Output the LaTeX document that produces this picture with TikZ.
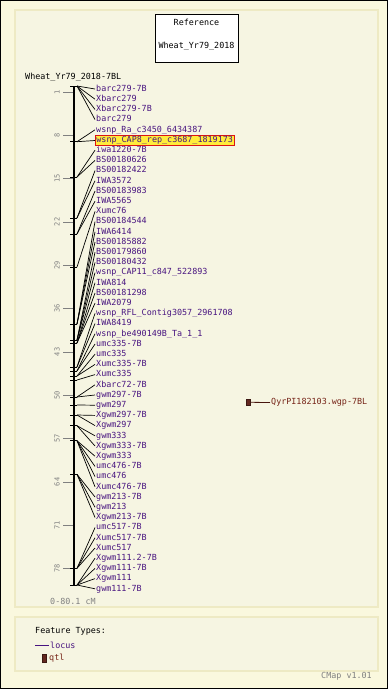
\documentclass[tikz,border=0pt]{standalone}
\usepackage{fontspec}
\setmonofont{DejaVu Sans Mono}
\definecolor{pagebg}{RGB}{250,248,222}
\definecolor{panelbg}{RGB}{246,245,226}
\definecolor{panelline}{RGB}{238,234,196}
\definecolor{locuscol}{RGB}{72,20,128}
\definecolor{qtlcol}{RGB}{118,36,24}
\definecolor{qtlfill}{RGB}{100,40,32}
\definecolor{scalegray}{RGB}{128,128,128}
\definecolor{hiyellow}{RGB}{255,236,60}
\definecolor{hired}{RGB}{220,20,20}
\begin{document}
\begin{tikzpicture}[x=1pt, y=-1pt,
    mono/.style={font=\ttfamily\fontsize{8.4}{10}\selectfont, inner sep=1pt},
    lbl/.style={mono, text=locuscol, anchor=west, text height=6pt, text depth=1.5pt},
    hilite/.style={fill=hiyellow, draw=hired, line width=0.8pt},
    conn/.style={line width=0.7pt},
    mtick/.style={line width=0.8pt},
    scaletick/.style={scalegray, line width=0.8pt},
    scalenum/.style={font=\ttfamily\fontsize{7}{8}\selectfont, text=scalegray, rotate=90, inner sep=0pt},
    panel/.style={draw=panelline, fill=panelbg, line width=1.5pt}]
    \useasboundingbox (0,0) rectangle (388,689);

    % 绘制背景和面板
    \fill[pagebg] (0,0) rectangle (388,689);
    \draw[black, line width=1pt] (0.5,0.5) rectangle (387.5,688.5);
    \draw[panel] (15,10) rectangle (378,607);
    \draw[panel] (15,617) rectangle (378,671);

    % 参考图框
    \node[draw, fill=white, line width=0.8pt, minimum width=83pt, minimum height=48pt] (refbox) at (196.5,38) {};
    \node[mono] (reftitle) at (196.5,22.5) {Reference};
    \node[mono] (refname) at (196.5,46) {Wheat\_Yr79\_2018};

    % 染色体名称和轴
    \node[mono, anchor=west] (chrtitle) at (24,77) {Wheat\_Yr79\_2018-7BL};
    \draw[line width=2pt] (73.5,86) -- (73.5,585);
    \foreach \c in {1,8,...,78}{
        \pgfmathsetmacro\ty{85.8+6.19*\c}
        \draw[scaletick] (63,\ty) -- (72.5,\ty);
        \node[scalenum] (s\c) at (57,\ty) {\c};
    }
    \node[mono, text=scalegray, anchor=west] (span) at (49,601) {0-80.1 cM};

    % 标记位置
    \foreach \my in {86,141.7,177,218,234,267,324,340,343,367,371,376,380,397,405,415,425.7,440.7,474.3,568.3,585}
        \draw[mtick] (70,\my) -- (77,\my);

    % 标记名称和连线
    \foreach \i/\my/\txt in {
        1/86/barc279-7B, 2/86/Xbarc279, 3/86/Xbarc279-7B, 4/86/barc279,
        5/141.7/wsnp\_Ra\_c3450\_6434387,
        7/177/iwa1220-7B, 8/177/BS00180626,
        9/218/BS00182422, 10/218/IWA3572,
        11/234/BS00183983, 12/234/IWA5565,
        13/267/Xumc76,
        14/324/BS00184544, 15/324/IWA6414, 16/324/BS00185882,
        17/340/BS00179860, 18/340/BS00180432, 19/340/wsnp\_CAP11\_c847\_522893,
        20/343/IWA814, 21/343/BS00181298, 22/343/IWA2079,
        23/367/wsnp\_RFL\_Contig3057\_2961708, 24/367/IWA8419,
        25/371/wsnp\_be490149B\_Ta\_1\_1, 26/371/umc335-7B,
        27/376/umc335, 28/376/Xumc335-7B,
        29/380/Xumc335, 30/397/Xbarc72-7B,
        31/397/gwm297-7B, 32/405/gwm297,
        33/415/Xgwm297-7B, 34/415/Xgwm297,
        35/425.7/gwm333, 36/425.7/Xgwm333-7B,
        37/440.7/Xgwm333, 38/440.7/umc476-7B, 39/440.7/umc476, 40/440.7/Xumc476-7B,
        41/474.3/gwm213-7B, 42/474.3/gwm213, 43/474.3/Xgwm213-7B,
        44/568.3/umc517-7B, 45/568.3/Xumc517-7B, 46/568.3/Xumc517,
        47/585/Xgwm111.2-7B, 48/585/Xgwm111-7B, 49/585/Xgwm111, 50/585/gwm111-7B}{
        \pgfmathsetmacro\ly{89+(\i-1)*10.2}
        \coordinate (m\i) at (77,\my);
        \node[lbl] (l\i) at (95,\ly) {\txt};
        \draw[conn] (m\i) -- (l\i.west);
    }

    % 高亮的标记
    \coordinate (m6) at (77,141.7);
    \node[lbl, hilite] (l6) at (95,140.5) {wsnp\_CAP8\_rep\_c3687\_1819173};
    \draw[conn] (m6) -- (l6.west);

    % QTL
    \node[draw=qtlfill!60!black, fill=qtlfill, line width=0.6pt, minimum width=4pt, minimum height=6pt, inner sep=0pt] (qtl) at (248,402.3) {};
    \node[mono, text=qtlcol, anchor=west] (qtlname) at (270,402.5) {QyrPI182103.wgp-7BL};
    \draw[qtlcol!60!black, line width=0.8pt] (qtl.east) -- (qtlname.west);

    % 图例
    \node[mono, anchor=west] (legtitle) at (34,631.7) {Feature Types:};
    \coordinate (locusline) at (35,645);
    \node[mono, text=locuscol, anchor=west] (leglocus) at (49,645) {locus};
    \draw[locuscol, line width=0.8pt] (locusline) -- (leglocus.west);
    \node[draw=qtlfill!60!black, fill=qtlfill, line width=0.6pt, minimum width=3.5pt, minimum height=8pt, inner sep=0pt] (legqtlbox) at (44.5,658) {};
    \node[mono, text=qtlcol, anchor=west] (legqtl) at (48,658) {qtl};

    \node[mono, text=scalegray, anchor=east] (version) at (373,676) {CMap v1.01};
\end{tikzpicture}
\end{document}
